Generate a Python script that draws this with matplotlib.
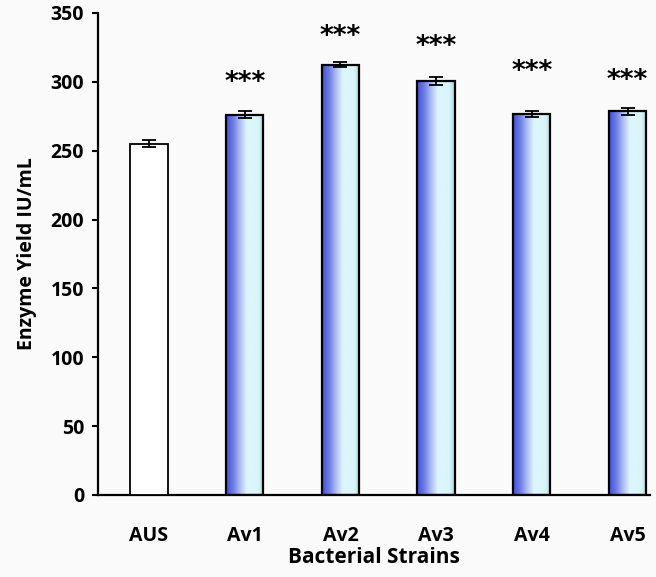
import matplotlib
matplotlib.use("Agg")
import matplotlib.pyplot as plt
import numpy as np
from matplotlib.colors import LinearSegmentedColormap

categories = ["AUS", "Av1", "Av2", "Av3", "Av4", "Av5"]
values = [255, 276, 312.5, 300.5, 277, 278.5]
errors = [2.5, 2.5, 2.0, 2.8, 2.2, 2.5]
stars = ["", "***", "***", "***", "***", "***"]
star_offsets = [0, 23, 20, 25, 30, 22]

plt.rcParams['font.family'] = ['Open Sans', 'DejaVu Sans']
plt.rcParams['font.weight'] = 'bold'

fig = plt.figure(figsize=(6.56, 5.77), dpi=100)
fig.patch.set_facecolor('#fafafa')
ax = fig.add_axes([98/656, 82/577, 552/656, 482/577])
ax.set_facecolor('#fafafa')

cmap = LinearSegmentedColormap.from_list(
    'grad', [(0.0, '#3f4fd6'), (0.2, '#7080e6'), (0.4, '#b8c6f4'),
             (0.55, '#dcf6fc'), (0.85, '#d8f6fa'), (1.0, '#a9d4de')])
grad = np.linspace(0, 1, 256).reshape(1, -1)

x = np.arange(len(categories))
w = 0.39
for i, (xi, v) in enumerate(zip(x, values)):
    if i == 0:
        ax.bar(xi, v, width=w, color='white', edgecolor='black', linewidth=1.3, zorder=3)
    else:
        ax.imshow(grad, cmap=cmap, aspect='auto',
                  extent=[xi - w/2, xi + w/2, 0, v], zorder=2, interpolation='bilinear')
        ax.bar(xi, v, width=w, color='none', edgecolor='black', linewidth=1.6, zorder=3)
    ax.errorbar(xi, v, yerr=errors[i], fmt='none', ecolor='black',
                elinewidth=1.3, capsize=5, capthick=1.3, zorder=4)
    if stars[i]:
        ax.text(xi, v + star_offsets[i], stars[i], ha='center', va='center',
                fontsize=19, fontweight='bold', family='DejaVu Sans', zorder=5)

ax.set_xlim(-0.533, 5.235)
ax.set_ylim(0, 350)
ax.set_yticks(np.arange(0, 351, 50))
ax.set_xticks(x)
ax.set_xticklabels(categories, fontsize=14, fontweight='bold')
ax.tick_params(axis='x', length=0, pad=22)
ax.tick_params(axis='y', direction='out', length=4, width=1.5, labelsize=14, pad=6)
for lab in ax.get_yticklabels():
    lab.set_fontweight('bold')
ax.spines['top'].set_visible(False)
ax.spines['right'].set_visible(False)
ax.spines['left'].set_linewidth(1.6)
ax.spines['bottom'].set_linewidth(1.6)

ax.set_xlabel('Bacterial Strains', fontsize=15, fontweight='bold', labelpad=1)
ax.set_ylabel('Enzyme Yield IU/mL', fontsize=14, fontweight='bold', labelpad=10)

fig.savefig('out.png', dpi=100, facecolor=fig.get_facecolor())
